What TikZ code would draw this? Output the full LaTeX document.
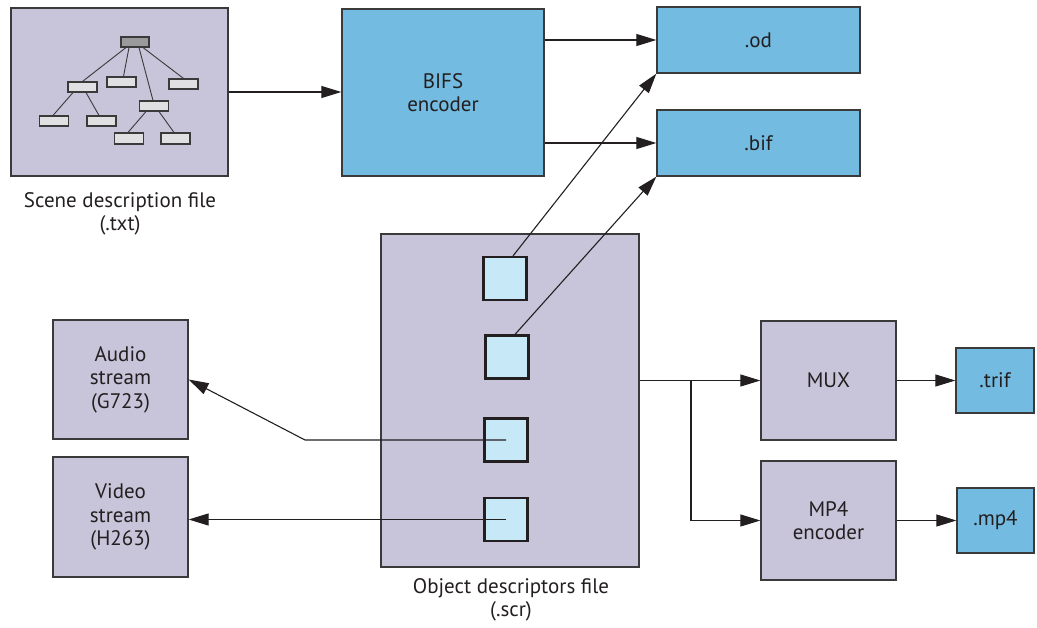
\documentclass[tikz,border=0pt]{standalone}
\usepackage{fontspec}
\setmainfont{PT Sans}
\usetikzlibrary{arrows.meta}
\definecolor{boxlilac}{HTML}{C8C4D9}
\definecolor{boxblue}{HTML}{73BBE0}
\definecolor{boxpale}{HTML}{C6E8F7}
\definecolor{edgegray}{HTML}{3A3A3A}
\definecolor{inkdark}{HTML}{231F20}
\definecolor{leafgray}{HTML}{E0E0E2}
\definecolor{rootgray}{HTML}{9A9A9C}
\tikzset{
  blk/.style={draw=edgegray, line width=1.3pt, rectangle, inner sep=0pt,
    align=center, text=inkdark, font=\fontsize{21}{23.5}\selectfont},
  lilac/.style={blk, fill=boxlilac},
  blue/.style={blk, fill=boxblue},
  odsq/.style={draw=inkdark, line width=2.2pt, fill=boxpale, minimum width=43pt, minimum height=43pt, inner sep=0pt},
  leaf/.style={draw=edgegray, line width=1.1pt, fill=leafgray, minimum width=29pt, minimum height=10pt, inner sep=0pt},
  twig/.style={draw=edgegray, line width=0.9pt},
  link/.style={draw=inkdark, line width=1.1pt},
  arr/.style={link, -{Triangle[length=20pt,width=12pt]}},
  caption/.style={align=center, text=inkdark, font=\fontsize{21}{22.5}\selectfont, inner sep=0pt}
}
\begin{document}
\begin{tikzpicture}[x=1pt,y=-1pt]
\useasboundingbox (0,0) rectangle (1037,628);

% scene description file with its tree
\node[lilac, minimum width=217pt, minimum height=168pt] (scene) at (119.5,92) {};
\node[leaf, fill=rootgray, minimum width=28pt] (r) at (135,42) {};
\node[leaf] (ta) at (82.5,87) {};
\node[leaf] (tb) at (121.5,82) {};
\node[leaf] (tc) at (154,106) {};
\node[leaf] (td) at (183.5,84) {};
\node[leaf] (ta1) at (54,121) {};
\node[leaf] (ta2) at (101.5,121) {};
\node[leaf, minimum height=11pt] (tc1) at (129,138.5) {};
\node[leaf, minimum height=11pt] (tc2) at (175.5,138.5) {};
\draw[twig] ([xshift=-9pt]r.south) -- (ta.north);
\draw[twig] ([xshift=-6pt]r.south) -- ([xshift=2pt]tb.north);
\draw[twig] ([xshift=4pt]r.south) -- ([xshift=-1pt]tc.north);
\draw[twig] ([xshift=8pt]r.south) -- (td.north);
\draw[twig] ([xshift=-9.5pt]ta.south) -- ([xshift=-1pt]ta1.north);
\draw[twig] ([xshift=3.5pt]ta.south) -- ([xshift=-2.5pt]ta2.north);
\draw[twig] ([xshift=-8pt]tc.south) -- ([xshift=-1pt]tc1.north);
\draw[twig] ([xshift=5pt]tc.south) -- ([xshift=-1.5pt]tc2.north);
\node[caption] (scenecap) at (120,214) {Scene description file\\(.txt)};

% BIFS encoder and its outputs
\node[blue, minimum width=202pt, minimum height=167pt] (bifs) at (443,92.5) {BIFS\\encoder};
\node[blue, minimum width=203pt, minimum height=66pt] (od) at (758.5,40) {.od};
\node[blue, minimum width=203pt, minimum height=66pt] (bif) at (758.5,143) {.bif};

% object descriptors file
\node[lilac, minimum width=258pt, minimum height=333pt] (odf) at (510,400.5) {};
\node[odsq] (s1) at (505,278.5) {};
\node[odsq] (s2) at (507,357) {};
\node[odsq] (s3) at (506,440) {};
\node[odsq] (s4) at (506,519.5) {};
\node[caption] (odfcap) at (511,600) {Object descriptors file\\(.scr)};

% elementary streams
\node[lilac, minimum width=135pt, minimum height=119pt] (audio) at (120.5,379.5) {Audio\\stream\\(G723)};
\node[lilac, minimum width=135pt, minimum height=120pt] (video) at (120.5,517) {Video\\stream\\(H263)};

% multiplexing and MP4 output
\node[lilac, minimum width=135pt, minimum height=119pt] (mux) at (828.5,380.5) {MUX};
\node[lilac, minimum width=135pt, minimum height=119pt] (mp4enc) at (828.5,520.5) {MP4\\encoder};
\node[blue, minimum width=78pt, minimum height=65pt] (trif) at (995,380.5) {.trif};
\node[blue, minimum width=77pt, minimum height=65pt] (mpf) at (995.5,520.5) {.mp4};

% connectors
\draw[arr] (scene.east) -- (scene.east -| bifs.west);
\draw[arr] (bifs.east |- od.west) -- (od.west);
\draw[arr] (bifs.east |- bif.west) -- (bif.west);
\draw[arr] ([xshift=8pt]s1.north) -- (od.south west);
\draw[arr] ([xshift=8pt]s2.north) -- (bif.south west);
\coordinate (bend) at (305,442);
\draw[arr] (s3.center) -- (s3.center -| bend) -- (audio.east);
\draw[arr] (s4.center) -- (s4.center -| video.east);
\coordinate (split) at (691,380.5);
\draw[arr] (odf.east |- mux.west) -- (mux.west);
\draw[arr] (split) -- (split |- mp4enc.west) -- (mp4enc.west);
\draw[arr] (mux.east) -- (trif.west);
\draw[arr] (mp4enc.east) -- (mpf.west);
\end{tikzpicture}
\end{document}
